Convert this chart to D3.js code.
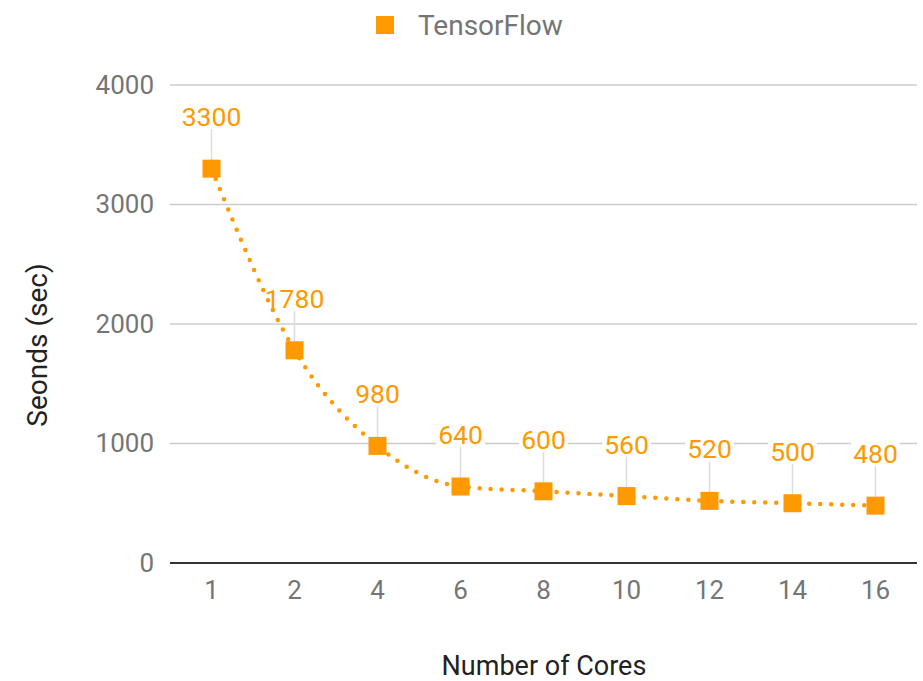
<!DOCTYPE html>
<html>
<head>
<meta charset="utf-8">
<script src="https://cdn.jsdelivr.net/npm/d3@7"></script>
<style>
  html, body { margin: 0; padding: 0; background: #fff; }
  svg { display: block; font-family: Roboto, "Noto Sans", sans-serif; }
</style>
</head>
<body>
<svg id="chart" width="923" height="681"></svg>
<script>
// Run time (seconds) by number of CPU cores
const cores = ["1", "2", "4", "6", "8", "10", "12", "14", "16"];
const seconds = [3300, 1780, 980, 640, 600, 560, 520, 500, 480];
const yTicks = [0, 1000, 2000, 3000, 4000];
const seriesName = "TensorFlow";
const xTitle = "Number of Cores";
const yTitle = "Seonds (sec)";

const W = 923, H = 681;
const margin = { left: 170, right: 6, top: 85, bottom: 118 };
const orange = "#ff9900";

const svg = d3.select("#chart");
const data = cores.map((c, i) => ({ c, v: seconds[i] }));

const x = d3.scaleBand().domain(cores).range([margin.left, W - margin.right]);
const y = d3.scaleLinear().domain([0, 4000]).range([H - margin.bottom, margin.top]);
const cx = d => x(d.c) + x.bandwidth() / 2;

// horizontal gridlines
svg.append("g")
  .selectAll("line")
  .data(yTicks.filter(t => t !== 0))
  .join("line")
  .attr("x1", margin.left).attr("x2", W - margin.right)
  .attr("y1", d => y(d)).attr("y2", d => y(d))
  .attr("stroke", "#cccccc").attr("stroke-width", 1.5);

// y tick labels
const yAxis = d3.axisLeft(y).tickValues(yTicks).tickSize(0).tickPadding(16).tickFormat(d3.format("d"));
svg.append("g")
  .attr("transform", `translate(${margin.left},0)`)
  .call(yAxis)
  .call(g => g.select(".domain").remove())
  .call(g => g.selectAll("text")
    .attr("font-size", 26).attr("fill", "#757575")
    .attr("font-family", "Roboto, sans-serif"));

// x tick labels
const xAxis = d3.axisBottom(x).tickSize(0).tickPadding(18);
svg.append("g")
  .attr("transform", `translate(0,${y(0)})`)
  .call(xAxis)
  .call(g => g.select(".domain").remove())
  .call(g => g.selectAll("text")
    .attr("font-size", 26).attr("fill", "#757575")
    .attr("font-family", "Roboto, sans-serif"));

// baseline
svg.append("line")
  .attr("x1", margin.left).attr("x2", W - margin.right)
  .attr("y1", y(0)).attr("y2", y(0))
  .attr("stroke", "#333333").attr("stroke-width", 2);

// data labels with leader lines
const labelOffset = 52;
const labels = svg.append("g");
labels.selectAll("line")
  .data(data)
  .join("line")
  .attr("x1", d => cx(d)).attr("x2", d => cx(d))
  .attr("y1", d => y(d.v) - labelOffset + 12).attr("y2", d => y(d.v) - 8)
  .attr("stroke", "#dddddd").attr("stroke-width", 1.5);

const lblG = labels.selectAll("g.lbl")
  .data(data)
  .join("g")
  .attr("class", "lbl")
  .attr("transform", d => `translate(${cx(d)},${y(d.v) - labelOffset})`);
lblG.append("rect")
  .attr("fill", "#fff");
lblG.append("text")
  .attr("text-anchor", "middle")
  .attr("dy", "0.36em")
  .attr("font-size", 26.5)
  .attr("fill", orange)
  .text(d => d.v);
lblG.each(function() {
  const b = d3.select(this).select("text").node().getBBox();
  d3.select(this).select("rect")
    .attr("x", b.x - 2).attr("y", b.y + 3)
    .attr("width", b.width + 4).attr("height", b.height - 6);
});

// smoothed dotted line
const line = d3.line().x(cx).y(d => y(d.v)).curve(d3.curveMonotoneX);
svg.append("path")
  .datum(data)
  .attr("d", line)
  .attr("fill", "none")
  .attr("stroke", orange)
  .attr("stroke-width", 4.5)
  .attr("stroke-linecap", "round")
  .attr("stroke-dasharray", "0 11");

// square markers
const ms = 18;
svg.append("g")
  .selectAll("rect")
  .data(data)
  .join("rect")
  .attr("x", d => cx(d) - ms / 2)
  .attr("y", d => y(d.v) - ms / 2)
  .attr("width", ms).attr("height", ms)
  .attr("fill", orange);

// legend
const legend = svg.append("g").attr("transform", "translate(376,16)");
legend.append("rect").attr("width", 18).attr("height", 18).attr("fill", orange);
legend.append("text")
  .attr("x", 42).attr("y", 9).attr("dy", "0.36em")
  .attr("font-size", 28).attr("fill", "#757575")
  .text(seriesName);

// axis titles
svg.append("text")
  .attr("x", 544)
  .attr("y", 665).attr("dy", "0.36em")
  .attr("text-anchor", "middle")
  .attr("font-size", 27).attr("fill", "#222222")
  .text(xTitle);

svg.append("text")
  .attr("transform", `translate(37,345) rotate(-90)`)
  .attr("dy", "0.36em")
  .attr("text-anchor", "middle")
  .attr("font-size", 28).attr("fill", "#222222")
  .text(yTitle);
</script>
</body>
</html>
